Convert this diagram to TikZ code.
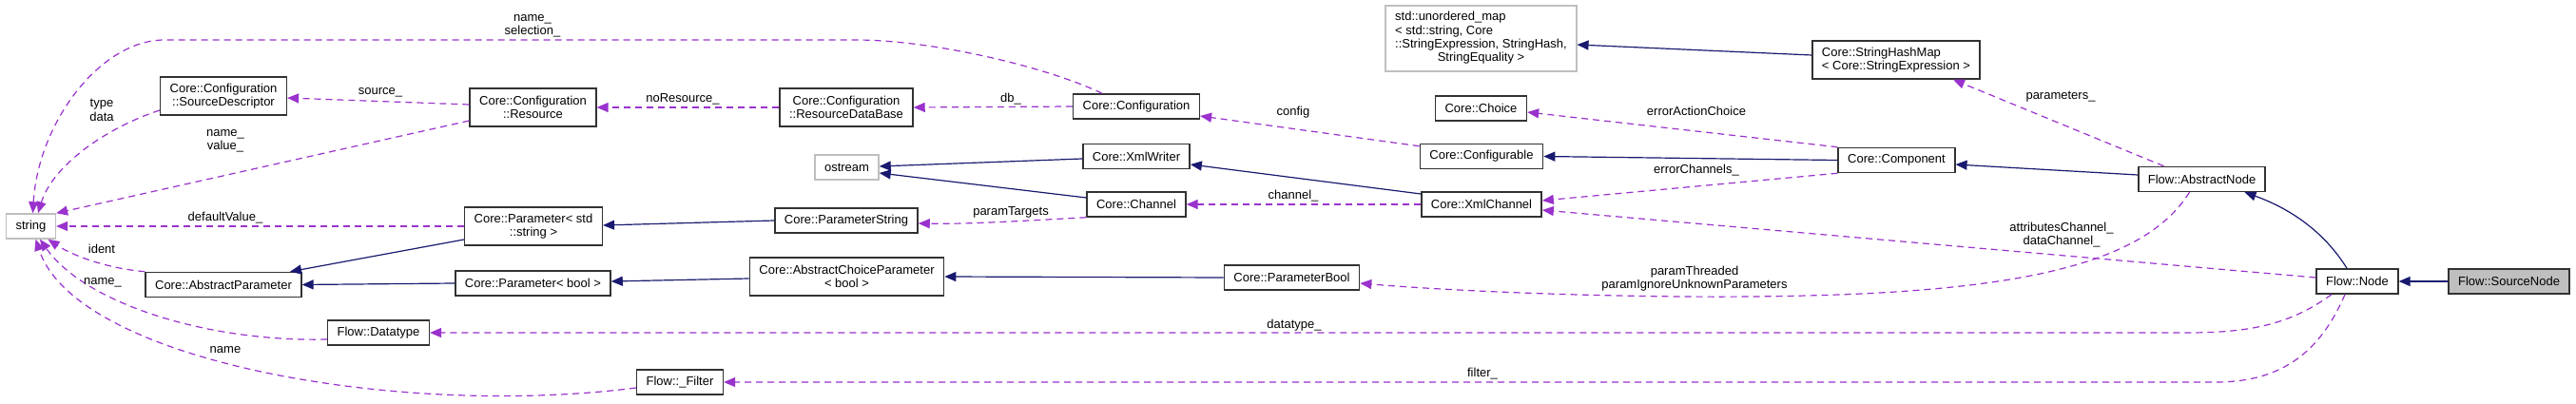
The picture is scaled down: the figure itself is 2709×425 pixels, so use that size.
\documentclass[tikz,border=0pt]{standalone}
\usepackage{fontspec}
\setmainfont{Liberation Sans}
\usetikzlibrary{arrows.meta}
\definecolor{dxPurple}{RGB}{154,50,205}
\definecolor{dxBlue}{RGB}{25,25,112}
\definecolor{dxGray}{RGB}{191,191,191}
\definecolor{dxEdge}{RGB}{50,50,50}
\tikzset{
    base/.style={font=\fontsize{13}{14.3}\selectfont, align=center},
    cls/.style={base, rectangle, draw=dxEdge, line width=1.5pt, fill=white,
                inner xsep=10pt, inner ysep=3pt, minimum height=26pt},
    ext/.style={cls, draw=dxGray},
    focus/.style={cls, fill=dxGray},
    inherit/.style={-{Triangle[length=12pt,width=10pt]}, line width=1.2pt, color=dxBlue},
    uses/.style={-{Triangle[length=12pt,width=10pt]}, line width=1.2pt, color=dxPurple,
                 dash pattern=on 7pt off 5pt},
    lbl/.style={base, inner sep=0pt}
}
\begin{document}
\begin{tikzpicture}[x=1pt, y=-1pt]
  \fill[white] (0,0) rectangle (2709,425);
  \useasboundingbox (0,0) rectangle (2709,425);

  % Classes
  \node[ext] (strng) at (32.5,238) {string};
  \node[cls, minimum height=40pt] (srcdesc) at (235,101) {Core::Configuration\\::SourceDescriptor};
  \node[cls] (absparam) at (235,299.5) {Core::AbstractParameter};
  \node[cls] (dtype) at (398,350) {Flow::Datatype};
  \node[cls, minimum height=40pt] (resource) at (560.5,113) {Core::Configuration\\::Resource};
  \node[cls, minimum height=40pt] (paramstr) at (561,238) {Core::Parameter< std\\::string >};
  \node[cls] (parambool) at (560.5,298) {Core::Parameter< bool >};
  \node[cls] (filter) at (715,402) {Flow::\_Filter};
  \node[cls, minimum height=40pt] (resdb) at (890,113) {Core::Configuration\\::ResourceDataBase};
  \node[ext] (ostream) at (890.5,176) {ostream};
  \node[cls] (pstring) at (890,232) {Core::ParameterString};
  \node[cls, minimum height=40pt] (abschoice) at (890.5,291) {Core::AbstractChoiceParameter\\< bool >};
  \node[cls] (cfg) at (1195,112) {Core::Configuration};
  \node[cls] (xmlwriter) at (1195,164.5) {Core::XmlWriter};
  \node[cls] (channel) at (1195,215) {Core::Channel};
  \node[cls] (pbool) at (1358.5,292) {Core::ParameterBool};
  \node[ext, minimum height=69pt] (umap) at (1557.5,40.5) {\begin{tabular}{@{}l@{}}std::unordered\_map\\< std::string, Core\\::StringExpression, StringHash,\\\multicolumn{1}{@{}c@{}}{StringEquality >}\end{tabular}};
  \node[cls] (choice) at (1557.5,114) {Core::Choice};
  \node[cls] (configurable) at (1558,164.5) {Core::Configurable};
  \node[cls] (xmlchannel) at (1558,215) {Core::XmlChannel};
  \node[cls, minimum height=40pt, align=left] (shm) at (1994,63) {Core::StringHashMap\\< Core::StringExpression >};
  \node[cls] (component) at (1994.5,168.5) {Core::Component};
  \node[cls] (absnode) at (2315.5,188.5) {Flow::AbstractNode};
  \node[cls] (flownode) at (2479,296) {Flow::Node};
  \node[focus] (srcnode) at (2638.5,296) {Flow::SourceNode};

  % Inheritance
  \draw[inherit] ([yshift=5pt]shm.west) -- ([yshift=-6.5pt]umap.east);
  \draw[inherit] (component.west) -- (configurable.east);
  \draw[inherit] ([yshift=4.5pt]absnode.west) -- ([yshift=-4.5pt]component.east);
  \draw[inherit] ([xshift=-11pt]flownode.north) .. controls (2445,245) and (2410,220) .. ([xshift=45pt]absnode.south);
  \draw[inherit] (srcnode.west) -- (flownode.east);
  \draw[inherit] ([yshift=-2.5pt]xmlwriter.west) -- ([yshift=1pt]ostream.east);
  \draw[inherit] ([yshift=7pt]channel.west) -- ([yshift=-6pt]ostream.east);
  \draw[inherit] ([yshift=11pt]xmlchannel.west) -- ([yshift=-8.5pt]xmlwriter.east);
  \draw[inherit] (pstring.west) -- ([yshift=1pt]paramstr.east);
  \draw[inherit] ([yshift=-14pt]paramstr.west) -- ([xshift=70pt]absparam.north);
  \draw[inherit] (parambool.west) -- (absparam.east);
  \draw[inherit] ([yshift=-2pt]abschoice.west) -- ([yshift=2pt]parambool.east);
  \draw[inherit] (pbool.west) -- (abschoice.east);

  % Usage
  \draw[uses] ([xshift=-36pt]cfg.north) .. controls (1100,70) and (980,42) .. (900,42) -- (173,42)
      .. controls (105,42) and (40,130) .. ([xshift=2pt]strng.north);
  \draw[uses] ([yshift=-15pt]srcdesc.west) .. controls (110,135) and (55,175) .. ([xshift=7.5pt]strng.north);
  \draw[uses] ([yshift=3pt]resource.west) -- ([yshift=-2pt]srcdesc.east);
  \draw[uses] ([yshift=-14pt]resource.west) -- (strng.north east);
  \draw[uses] (resdb.west) -- (resource.east);
  \draw[uses] (cfg.west) -- (resdb.east);
  \draw[uses] (paramstr.west) -- (strng.east);
  \draw[uses] (absparam.north west) .. controls (110,282) and (75,268) .. ([xshift=18pt]strng.south);
  \draw[uses] ([yshift=-7pt]dtype.west) .. controls (220,360) and (90,320) .. ([xshift=9.5pt]strng.south);
  \draw[uses] ([yshift=-6pt]filter.west) .. controls (420,440) and (80,380) .. ([xshift=5pt]strng.south);
  \draw[uses] ([yshift=-3pt]configurable.north west) -- ([yshift=-10pt]cfg.east);
  \draw[uses] (xmlchannel.west) -- (channel.east);
  \draw[uses] (channel.south west) .. controls (1080,232) and (1020,236) .. ([yshift=-3pt]pstring.east);
  \draw[uses] (component.north west) -- ([yshift=-4pt]choice.east);
  \draw[uses] (component.south west) -- ([yshift=4pt]xmlchannel.east);
  \draw[uses] ([yshift=4pt]flownode.west) -- ([yshift=-6pt]xmlchannel.east);
  \draw[uses] ([xshift=-13pt]absnode.south) .. controls (2260,270) and (2150,305) .. (1900,311)
      .. controls (1750,315) and (1550,308) .. ([yshift=-6pt]pbool.east);
  \draw[uses] ([xshift=-40pt]absnode.north) -- ([xshift=60pt]shm.south);
  \draw[uses] ([xshift=-27pt]flownode.south) .. controls (2410,340) and (2370,350) .. (2300,350) -- (dtype.east);
  \draw[uses] ([xshift=-13pt]flownode.south) .. controls (2440,370) and (2400,402) .. (2330,402) -- (filter.east);

  % Member names
  \node[lbl] (lSel) at (560,27) {name\_\\selection\_};
  \node[lbl] (lType) at (107,116) {type\\data};
  \node[lbl] (lValue) at (237,148) {name\_\\value\_};
  \node[lbl] (lSource) at (400,97) {source\_};
  \node[lbl] (lDefault) at (237,229) {defaultValue\_};
  \node[lbl] (lIdent) at (107,262) {ident};
  \node[lbl] (lName) at (108,297) {name\_};
  \node[lbl] (lFltName) at (237,368) {name};
  \node[lbl] (lNoRes) at (718,104) {noResource\_};
  \node[lbl] (lDb) at (1063,104) {db\_};
  \node[lbl] (lConfig) at (1360,118) {config};
  \node[lbl] (lChannel) at (1360,206) {channel\_};
  \node[lbl] (lTargets) at (1063,223) {paramTargets};
  \node[lbl] (lDatatype) at (1361,342) {datatype\_};
  \node[lbl] (lAction) at (1784,117) {errorActionChoice};
  \node[lbl] (lErrCh) at (1784,179) {errorChannels\_};
  \node[lbl] (lThreaded) at (1782,293) {paramThreaded\\paramIgnoreUnknownParameters};
  \node[lbl] (lFilter) at (1559,393) {filter\_};
  \node[lbl] (lParams) at (2167,102) {parameters\_};
  \node[lbl] (lAttr) at (2168,247) {attributesChannel\_\\dataChannel\_};
\end{tikzpicture}
\end{document}
